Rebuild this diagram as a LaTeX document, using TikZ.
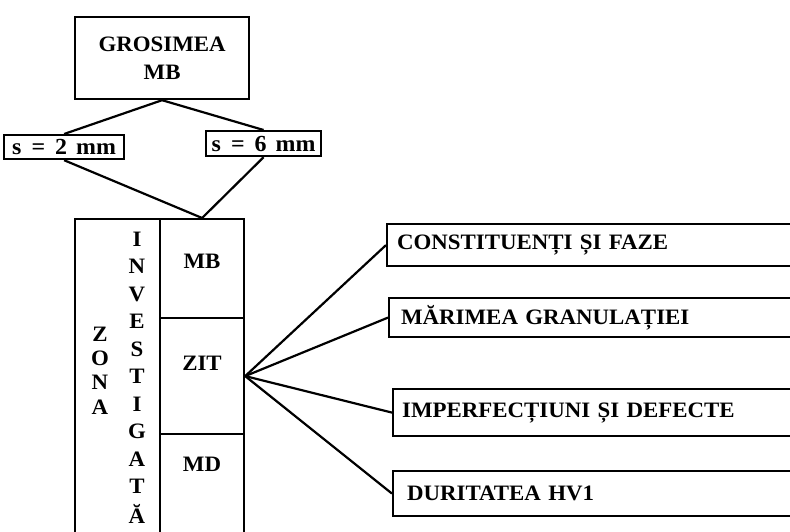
\documentclass[tikz,border=0pt]{standalone}
\usepackage{fontspec}
\setmainfont{Liberation Serif}[FakeStretch=1.04]
\begin{document}
\begin{tikzpicture}[x=1pt, y=-1pt,
  line width=2.2pt,
  lbl/.style={font=\fontsize{22}{25}\selectfont\bfseries},
  box/.style={draw, rectangle, lbl, inner sep=0pt},
  sbox/.style={box, anchor=north west, font=\fontsize{23}{25}\selectfont\bfseries},
  wbox/.style={box, anchor=north west, minimum width=430pt, text width=400pt, align=left},
  letter/.style={lbl, inner sep=0pt, anchor=center},
  link/.style={draw, line width=2.2pt}]
\useasboundingbox (0,0) rectangle (790,532);
\clip (0,0) rectangle (790,532);

% top: thickness of the base material and the two variants
\node[box, anchor=north west, minimum width=174pt, minimum height=82pt, align=center]
  (gros) at (74,16) {GROSIMEA\\[3pt]MB};
\node[sbox, minimum width=120pt, minimum height=24pt]
  (s2) at (3,134) {s\hspace{10pt}=\hspace{10pt}2\hspace{9pt}mm};
\node[sbox, minimum width=115pt, minimum height=25pt]
  (s6) at (205,130) {s\hspace{10pt}=\hspace{10pt}6\hspace{9pt}mm};

% investigated zone column and its three cells
\node[draw, anchor=north west, minimum width=85pt, minimum height=330pt, inner sep=0pt]
  (zcol) at (74,218) {};
\node[box, anchor=north west, minimum width=84pt, minimum height=99pt]
  (mb) at (159,218) {};
\node[box, anchor=north west, minimum width=84pt, minimum height=116pt]
  (zit) at (159,317) {};
\node[box, anchor=north west, minimum width=84pt, minimum height=110pt]
  (md) at (159,433) {};
\node[lbl] (mbt) at (202,261) {MB};
\node[lbl] (zitt) at (202,363) {ZIT};
\node[lbl] (mdt) at (202,464) {MD};

% vertical captions
\foreach \ch [count=\i] in {Z,O,N,A}
  \node[letter] (zona\i) at (100,{334+(\i-1)*24.3}) {\ch};
\foreach \ch [count=\i] in {I,N,V,E,S,T,I,G,A,T,Ă}
  \node[letter] (inv\i) at (137,{239+(\i-1)*27.5}) {\ch};

% properties examined in the heat-affected zone
\node[wbox, minimum height=42pt, text width=410pt] (c1) at (386,223) {CONSTITUENȚI ȘI FAZE};
\node[wbox, minimum height=39pt, text width=406pt] (c2) at (388,297) {MĂRIMEA GRANULAȚIEI};
\node[wbox, minimum height=47pt, text width=412pt] (c3) at (392,388) {IMPERFECȚIUNI ȘI DEFECTE};
\node[wbox, minimum height=45pt, text width=402pt] (c4) at (392,470) {DURITATEA HV1};

% connectors
\coordinate (join) at (mb.north);
\draw[link] (gros.south) -- (s2.north);
\draw[link] (gros.south) -- (s6.north);
\draw[link] (s2.south) -- (join);
\draw[link] (s6.south) -- (join);
\foreach \c in {c1,c2,c3,c4}
  \draw[link] (zit.east) -- (\c.west);
\end{tikzpicture}
\end{document}
